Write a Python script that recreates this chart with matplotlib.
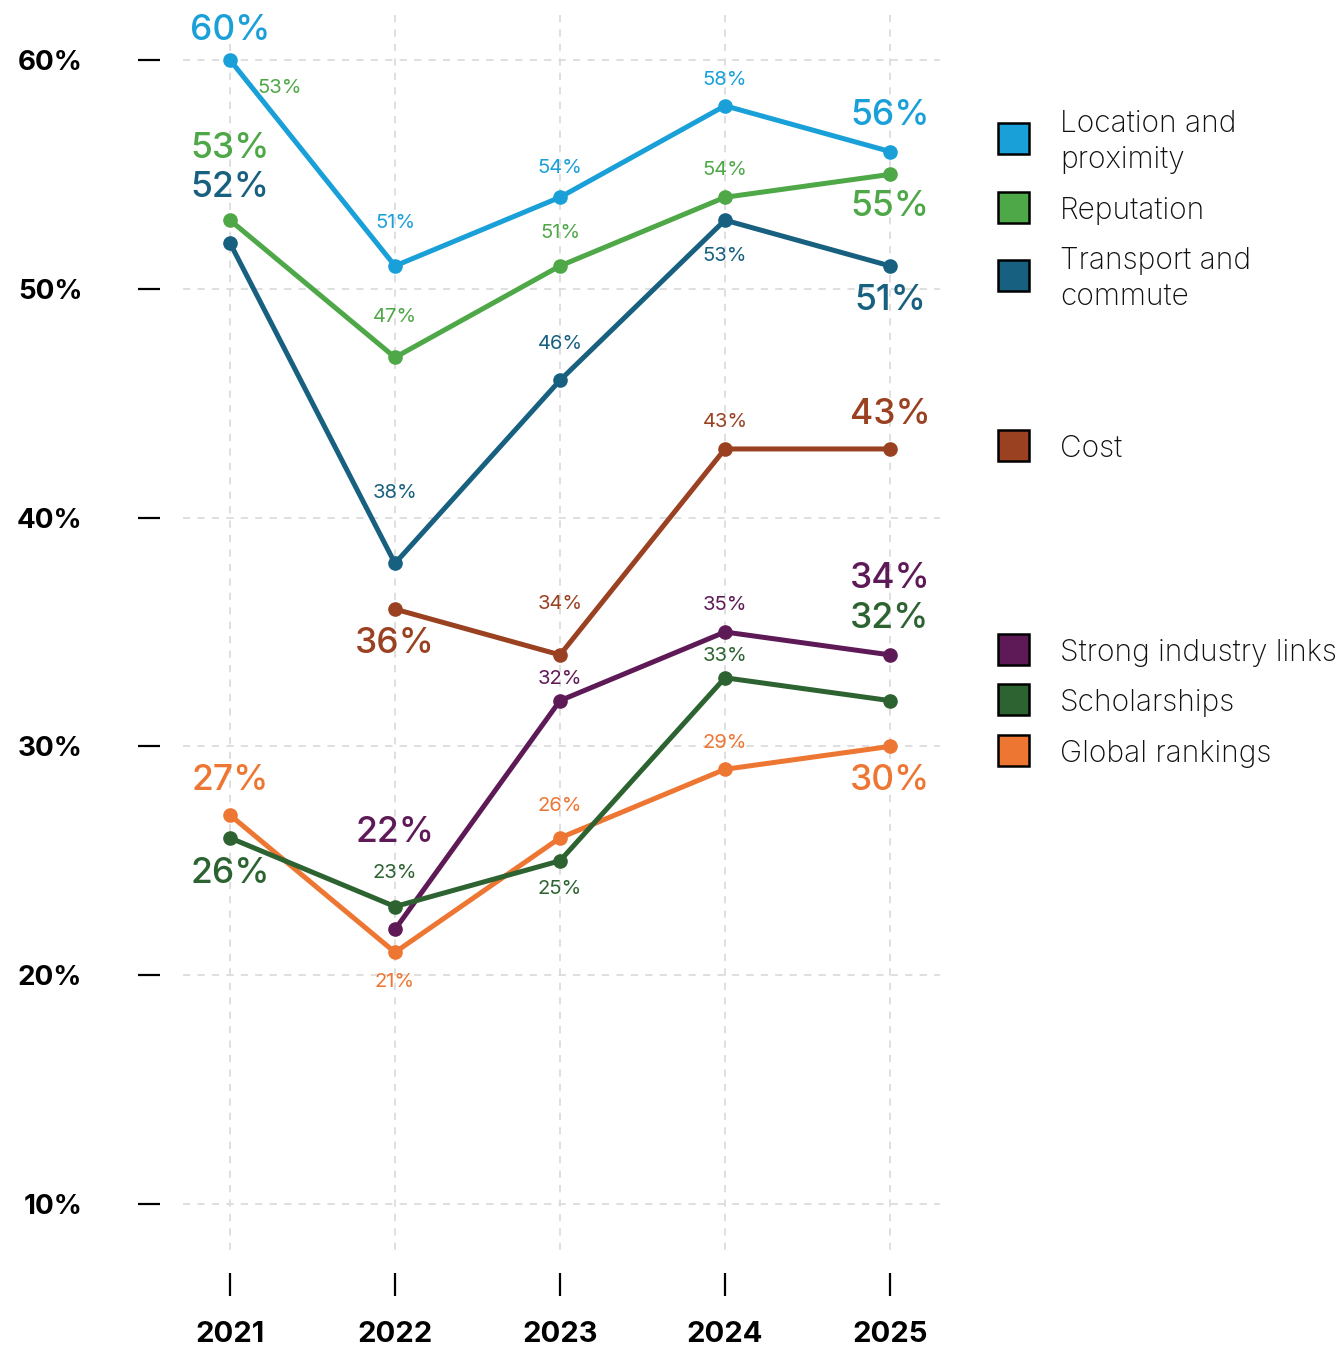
import numpy as np
import matplotlib.pyplot as plt
from matplotlib.patches import Rectangle

years = [2021, 2022, 2023, 2024, 2025]

location = [60, 51, 54, 58, 56]
reputation = [53, 47, 51, 54, 55]
transport = [52, 38, 46, 53, 51]
cost = [np.nan, 36, 34, 43, 43]
industry = [np.nan, 22, 32, 35, 34]
scholarships = [26, 23, 25, 33, 32]
rankings = [27, 21, 26, 29, 30]

names = ['Location and\nproximity', 'Reputation', 'Transport and\ncommute', 'Cost',
         'Strong industry links', 'Scholarships', 'Global rankings']
colors = ['#1aa0d8', '#4ea847', '#17607f', '#9a4121', '#5e1a56', '#2d6331', '#ee7633']
series = [location, reputation, transport, cost, industry, scholarships, rankings]

# label offsets in pixels (negative = above the point)
offsets = [
    [-30, -43, -29, -26, -36],
    [-72, -40, -33, -27, 32],
    [-56, -70, -36, 36, 35],
    [0, 34, -51, -27, -34],
    [0, -97, -22, -27, -76],
    [36, -34, 28, -22, -82],
    [-35, 30, -32, -26, 34],
]
zorders = [5, 5, 5, 4, 2, 3, 1]

legend_y = [138, 207, 275, 445, 649, 699, 750]

W, H = 1342, 1347
fig = plt.figure(figsize=(W / 100, H / 100), dpi=100)
ax = fig.add_axes([183 / W, 1 - 1250 / H, (940 - 183) / W, (1250 - 15) / H])

ax.set_xlim(2021 - 47 / 165, 2025 + 50 / 165)
ax.set_ylim(10 - 46 / 22.88, 60 + 45 / 22.88)

ax.grid(True, color='#dcdcdc', linestyle=(0, (4, 4)), linewidth=1.3)
ax.set_axisbelow(True)
for s in ax.spines.values():
    s.set_visible(False)
# outward is in points: 23 px at 100 dpi
ax.spines['left'].set_position(('outward', 16.5))
ax.spines['bottom'].set_position(('outward', 16.5))

ax.set_xticks(years)
ax.set_xticklabels([str(y) for y in years], fontsize=21, fontweight='bold', family='Inter')
ax.set_yticks([10, 20, 30, 40, 50, 60])
ax.set_yticklabels(['10%', '20%', '30%', '40%', '50%', '60%'], fontsize=20,
                   fontweight='bold', family='Inter')
ax.tick_params(axis='y', length=16, width=1.6, pad=40, color='black')
ax.tick_params(axis='x', length=16.5, width=1.6, pad=18, color='black')

for vals, col, offs, z in zip(series, colors, offsets, zorders):
    ax.plot(years, vals, color=col, linewidth=3.6, marker='o', markersize=9.5,
            zorder=z, clip_on=False)
    valid = [i for i, v in enumerate(vals) if not np.isnan(v)]
    first, last = valid[0], valid[-1]
    for i in valid:
        big = i in (first, last)
        ax.annotate(f'{vals[i]:.0f}%', (years[i], vals[i]),
                    xytext=(0, -offs[i]), textcoords='offset pixels',
                    ha='center', va='center', color=col,
                    fontsize=25.5 if big else 14.5, family='Inter',
                    fontweight='medium' if big else 'normal', zorder=6)

# stray small label in the source chart
ax.annotate('53%', (years[0], reputation[0]), xytext=(50, 132), textcoords='offset pixels',
            ha='center', va='center', color=colors[1], fontsize=14.5, family='Inter')

for name, col, py in zip(names, colors, legend_y):
    fig.add_artist(Rectangle((998 / W, 1 - (py + 16) / H), 31 / W, 31 / H,
                             transform=fig.transFigure, facecolor=col,
                             edgecolor='black', linewidth=1.8))
    fig.text(1060 / W, 1 - (py + 4) / H, name, ha='left', va='center', fontsize=21.5,
             family='Inter', fontweight='light', color='#111111', linespacing=1.4)

fig.savefig('out.png', dpi=100)
